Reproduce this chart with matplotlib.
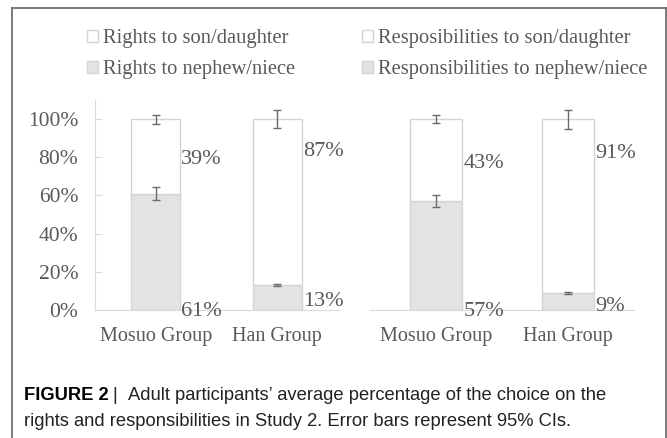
import matplotlib
matplotlib.use("Agg")
import matplotlib.pyplot as plt
from matplotlib.patches import Patch
from matplotlib.lines import Line2D
import numpy as np

groups = ["Mosuo Group", "Han Group"]
yticks = [0, 0.2, 0.4, 0.6, 0.8, 1.0]
ytick_labels = ["0%", "20%", "40%", "60%", "80%", "100%"]

# rights panel
rights_nephew = [0.61, 0.13]
rights_son = [0.39, 0.87]
rights_err_nephew = [0.034, 0.005]
rights_err_son = [0.024, 0.047]

# responsibilities panel
resp_nephew = [0.57, 0.09]
resp_son = [0.43, 0.91]
resp_err_nephew = [0.030, 0.005]
resp_err_son = [0.022, 0.050]

legend_rights = ["Rights to son/daughter", "Rights to nephew/niece"]
legend_resp = ["Resposibilities to son/daughter", "Responsibilities to nephew/niece"]

# label heights (data units) as they sit in the original figure
rights_lab_y = [(0.79, -0.01), (0.83, 0.045)]
resp_lab_y = [(0.77, -0.01), (0.82, 0.02)]

W, H = 667, 438
TXT = "#595959"
GREY_FILL = "#e3e3e3"
EDGE = "#d4d4d4"
serif = ["Liberation Serif", "DejaVu Serif"]

fig = plt.figure(figsize=(W / 100, H / 100), dpi=100)


def px_axes(x0, x1, y_top, y_bot):
    return fig.add_axes([x0 / W, 1 - y_bot / H, (x1 - x0) / W, (y_bot - y_top) / H])


def draw_panel(ax, nephew, son, err_n, err_s, lab_y, show_y):
    x = np.arange(len(groups))
    ax.bar(x, nephew, width=0.40, color=GREY_FILL, edgecolor=EDGE, linewidth=1)
    ax.bar(x, son, bottom=nephew, width=0.40, color="white", edgecolor=EDGE, linewidth=1)
    tops = np.array(nephew) + np.array(son)
    ax.errorbar(x, nephew, yerr=err_n, fmt="none", ecolor="#6a6a6a", elinewidth=1, capsize=3, capthick=1)
    ax.errorbar(x, tops, yerr=err_s, fmt="none", ecolor="#6a6a6a", elinewidth=1, capsize=3, capthick=1)
    for i in range(len(groups)):
        ax.text(x[i] + 0.21, lab_y[i][0], f"{round(son[i] * 100)}%", fontsize=16,
                family=serif, color=TXT, ha="left", va="center")
        ax.text(x[i] + 0.21, lab_y[i][1], f"{round(nephew[i] * 100)}%", fontsize=16,
                family=serif, color=TXT, ha="left", va="center")
    ax.set_xlim(-0.5, len(groups) - 0.5)
    ax.set_ylim(0, 1.1)
    ax.set_xticks(x)
    ax.set_xticklabels(groups, family=serif, fontsize=14.5, color=TXT)
    ax.tick_params(axis="x", length=0, pad=12)
    for s in ["top", "right"]:
        ax.spines[s].set_visible(False)
    ax.spines["bottom"].set_color("#d9d9d9")
    if show_y:
        ax.set_yticks(yticks)
        ax.set_yticklabels(ytick_labels, family=serif, fontsize=15.5, color=TXT)
        ax.spines["left"].set_color("#d9d9d9")
        ax.tick_params(axis="y", direction="in", length=5, color="#d9d9d9", pad=12)
    else:
        ax.spines["left"].set_visible(False)
        ax.set_yticks([])
    ax.patch.set_alpha(0)


ax1 = px_axes(95, 338, 100, 310)
draw_panel(ax1, rights_nephew, rights_son, rights_err_nephew, rights_err_son, rights_lab_y, True)
ax2 = px_axes(370, 634, 100, 310)
draw_panel(ax2, resp_nephew, resp_son, resp_err_nephew, resp_err_son, resp_lab_y, False)

for labels, x0 in [(legend_rights, 87), (legend_resp, 362)]:
    handles = [Patch(facecolor="white", edgecolor=EDGE, linewidth=1),
               Patch(facecolor=GREY_FILL, edgecolor=EDGE, linewidth=1)]
    fig.legend(handles, labels, loc="upper left", bbox_to_anchor=(x0 / W, 1 - 29 / H),
               frameon=False, prop={"family": serif, "size": 14.8}, labelcolor=TXT,
               handlelength=0.55, handleheight=0.55, handletextpad=0.25,
               labelspacing=0.6, borderaxespad=0, borderpad=0)

# outer frame
fc = "#707070"
fig.add_artist(Line2D([12 / W, 12 / W], [0, 1 - 8 / H], color=fc, lw=1.3, transform=fig.transFigure))
fig.add_artist(Line2D([12 / W, 666 / W], [1 - 8 / H, 1 - 8 / H], color=fc, lw=1.3, transform=fig.transFigure))
fig.add_artist(Line2D([666 / W, 666 / W], [0, 1 - 8 / H], color=fc, lw=1.3, transform=fig.transFigure))

sans = ["Liberation Sans", "DejaVu Sans"]
cap_size = 13.2
fig.text(24 / W, 1 - 396 / H, "FIGURE 2", fontsize=cap_size, family=sans, weight="bold",
         color="black", ha="left", va="center")
fig.text(112 / W, 1 - 396 / H, "|", fontsize=cap_size, family=sans,
         color="#222222", ha="left", va="center")
fig.text(128 / W, 1 - 396 / H, "Adult participants\u2019 average percentage of the choice on the",
         fontsize=cap_size, family=sans, color="#222222", ha="left", va="center")
fig.text(24 / W, 1 - 422 / H, "rights and responsibilities in Study 2. Error bars represent 95% CIs.",
         fontsize=cap_size, family=sans, color="#222222", ha="left", va="center")

fig.savefig("out.png", dpi=100)
